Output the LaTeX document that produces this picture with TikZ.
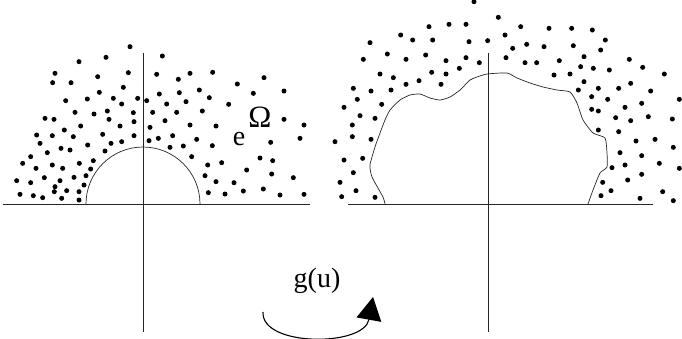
\documentclass[tikz,border=0pt]{standalone}
\usepackage{fontspec}
\setmainfont{Liberation Serif}
\usetikzlibrary{arrows.meta}
\tikzset{
  axis/.style={line width=0.8pt, draw=black!85},
  rim/.style={line width=0.7pt, draw=black!85},
  dot/.style={fill=black},
  lbl/.style={inner sep=0pt, font=\fontsize{28}{30}\selectfont},
  turn/.style={line width=1.1pt, -{Triangle[length=23pt,width=25pt]}}
}
\begin{document}
\begin{tikzpicture}[x=1pt,y=-1pt]
\useasboundingbox (0,0) rectangle (682,338);
% left panel axes
\coordinate (lh0) at (3,204); \coordinate (lh1) at (310,204);
\coordinate (lv0) at (143,53); \coordinate (lv1) at (143,332);
\draw[axis] (lh0) -- (lh1);
\draw[axis] (lv0) -- (lv1);
\draw[rim] (86,204) arc[start angle=180, end angle=0, radius=57pt];
% right panel axes
\coordinate (rh0) at (348,204); \coordinate (rh1) at (653,204);
\coordinate (rv0) at (488,53); \coordinate (rv1) at (488,332);
\draw[axis] (rh0) -- (rh1);
\draw[axis] (rv0) -- (rv1);
\draw[rim] plot[smooth, tension=0.35] coordinates {
 (385,204) (383,197) (372,177) (370,165) (375,147) (380,133) (385,120) (390,110)
 (400,100) (410,95) (420,94) (430,98) (440,100) (450,97) (460,90) (470,80)
 (477,77) (487,74) (507,73) (517,78) (530,83) (543,87) (557,90) (570,92)
 (577,103) (583,120) (593,133) (605,138) (607,153) (607,167) (600,173) (593,190) (588,204)};
% left dots
\begin{scope}[yshift=-30pt, x=0.33333pt, y=-0.33333pt]
\foreach \p in {(390,50),(487,78),(318,82),(237,95),(165,130),(293,140),(385,128),(470,133),(570,130),(638,127),(535,148),(792,143),(158,158),(213,158),(712,162),(370,172),(298,187),(478,192),(538,188),(598,180),(760,190),(852,183),(197,212),(262,207),(340,205),(413,205),(440,212),(365,222),(500,222),(628,203),(558,215),(686,223),(225,247),(282,252),(322,243),(400,248),(458,247),(530,247),(607,243),(135,265),(162,268),(327,268),(402,275),(495,272),(852,268),(912,285),(242,288),(360,288),(450,292),(570,285),(648,288),(193,300),(110,315),(157,317),(220,320),(308,313),(402,317),(475,325),(518,317),(447,332),(120,340),(263,345),(333,340),(365,335),(590,328),(637,347),(812,337),(900,325),(183,355),(210,360),(315,363),(510,352),(550,348),(142,368),(92,380),(280,392),(575,380),(780,384),(818,392),(68,400),(238,400),(157,405),(188,415),(108,415),(272,417),(623,405),(665,398),(740,420),(615,437),(815,432),(880,443),(50,452),(92,458),(133,443),(180,452),(222,442),(258,437),(648,455),(702,458),(165,470),(252,465),(790,477),(60,493),(100,497),(128,503),(163,485),(200,482),(237,485),(625,488),(675,492),(730,483),(840,495),(912,493),(185,505),(237,510)}
  \fill[dot] \p circle[radius=7.5];
\end{scope}
% right dots
\begin{scope}[xshift=330pt, x=0.33333pt, y=-0.33333pt]
\foreach \p in {(432,5),(505,52),(297,80),(357,73),(408,73),(572,80),(657,85),(725,85),(787,90),(212,105),(248,120),(308,120),(417,125),(473,122),(525,105),(826,120),(120,128),(590,133),(548,145),(642,140),(730,137),(812,150),(172,162),(287,165),(348,182),(408,173),(448,188),(528,173),(585,188),(620,188),(688,182),(762,170),(100,178),(228,178),(898,178),(752,200),(790,205),(838,210),(938,202),(1003,222),(150,222),(305,217),(348,222),(388,205),(190,233),(720,222),(672,225),(267,242),(762,245),(228,253),(333,253),(70,265),(123,273),(183,270),(745,270),(805,265),(866,265),(902,250),(962,273),(785,290),(833,298),(1048,298),(82,298),(155,313),(42,322),(885,322),(935,310),(785,328),(805,333),(90,347),(135,355),(857,353),(902,362),(955,350),(1027,357),(67,375),(805,390),(866,395),(67,410),(123,418),(15,425),(918,423),(975,418),(1030,442),(42,480),(98,475),(870,458),(935,467),(846,503),(885,495),(988,490),(1048,505),(70,518),(935,523),(818,547),(893,540),(30,547),(78,572),(843,572),(998,575),(35,590),(135,592),(813,587),(930,595),(1030,602)}
  \fill[dot] \p circle[radius=7.5];
\end{scope}
% labels
\node[lbl, anchor=base] (e) at (239,145) {e};
\node[lbl, anchor=base, font=\fontsize{31}{33}\selectfont] (om) at (260,127) {Ω};
\node[lbl, anchor=base] (g) at (317,287) {g(u)};
% turning arrow
\coordinate (t0) at (263,312);
\coordinate (t1) at (373,297);
\draw[turn] (t0) .. controls (261,347) and (364,347) .. (t1);
\end{tikzpicture}
\end{document}
